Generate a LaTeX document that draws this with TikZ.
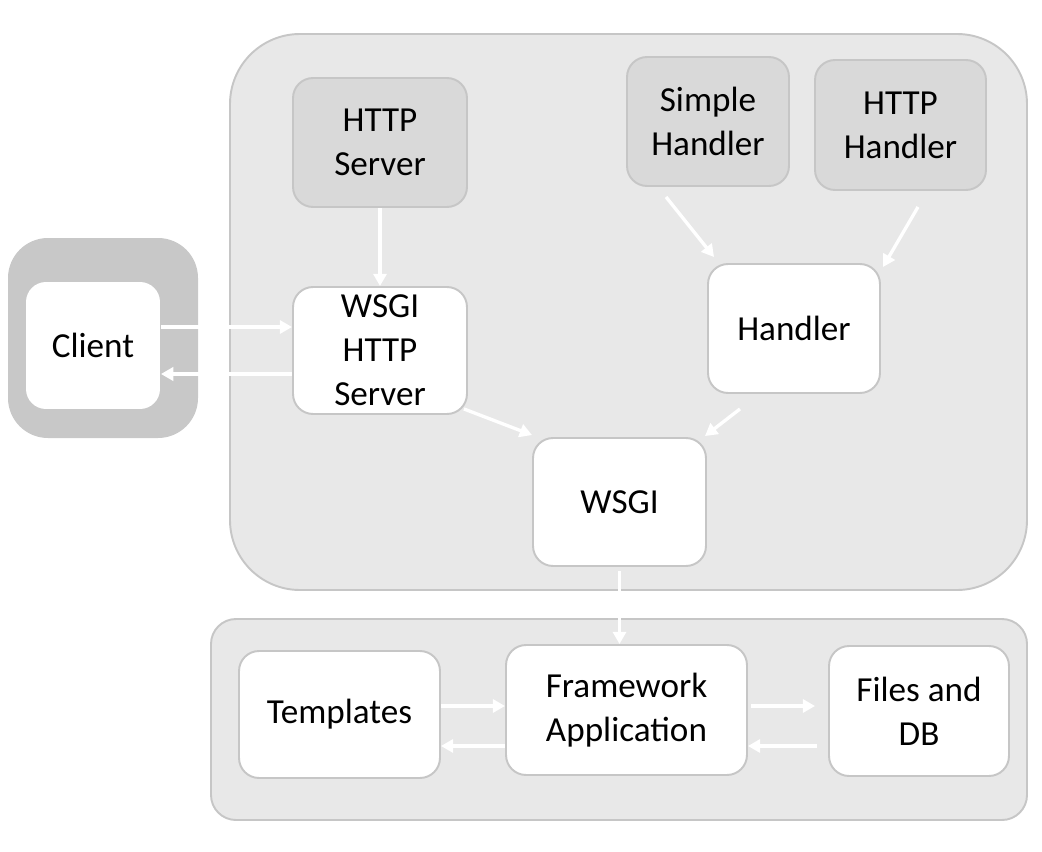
\documentclass[tikz,border=0pt]{standalone}
\usepackage{fontspec}
\setmainfont{Carlito}
\usetikzlibrary{arrows.meta}
\definecolor{panel}{HTML}{E8E8E8}
\definecolor{rim}{HTML}{C6C6C6}
\definecolor{boxgrey}{HTML}{D9D9D9}
\definecolor{clientgrey}{HTML}{C8C8C8}
\begin{document}
\begin{tikzpicture}[x=0.02cm,y=-0.02cm,
  box/.style={draw=rim,line width=1.1pt,fill=white,rounded corners=0.4cm,
    align=center,inner sep=0pt,font=\fontsize{20}{25}\selectfont},
  greybox/.style={box,fill=boxgrey},
  flow/.style={white,line width=1.9pt,-{Triangle[length=7pt,width=7.5pt]}}]
  \useasboundingbox (0,0) rectangle (1042,852);
% panels
  \draw[rim,fill=panel,line width=1.1pt,rounded corners=1.4cm] (230,34) rectangle (1027,590);
  \draw[rim,fill=panel,line width=1.1pt,rounded corners=0.5cm] (211,619) rectangle (1027,820);
  \fill[clientgrey,rounded corners=0.8cm] (8,238) rectangle (198,438);
% nodes
  \node[box,minimum width=2.68cm,minimum height=2.54cm,draw=none] (client) at (93,345.5) {Client};
  \node[greybox,minimum width=3.48cm,minimum height=2.58cm] (httpsrv) at (380,142.5) {HTTP\\Server};
  \node[box,minimum width=3.48cm,minimum height=2.54cm] (wsgihttp) at (380,350.5) {WSGI\\HTTP\\Server};
  \node[greybox,minimum width=3.24cm,minimum height=2.58cm] (simple) at (708,121.5) {Simple\\Handler};
  \node[greybox,minimum width=3.42cm,minimum height=2.6cm] (httph) at (900.5,125) {HTTP\\Handler};
  \node[box,minimum width=3.44cm,minimum height=2.58cm] (handler) at (794,328.5) {Handler};
  \node[box,minimum width=3.46cm,minimum height=2.56cm] (wsgi) at (619.5,502) {WSGI};
  \node[box,minimum width=4.02cm,minimum height=2.54cm] (templates) at (339.5,714.5) {Templates};
  \node[box,minimum width=4.82cm,minimum height=2.6cm] (framework) at (626.5,710) {Framework\\Application};
  \node[box,minimum width=3.6cm,minimum height=2.6cm] (files) at (919,711) {Files and\\DB};
% arrows
  \draw[flow] (httpsrv) -- (wsgihttp);
  \draw[flow] ([yshift=0.47cm]wsgihttp.west -| client.east) -- ([yshift=0.47cm]wsgihttp.west);
  \draw[flow] ([yshift=-0.47cm]wsgihttp.west) -- ([yshift=-0.47cm]wsgihttp.west -| client.east);
  \draw[flow] ([xshift=-0.84cm,yshift=-0.2cm]simple.south) -- ([xshift=0.14cm,yshift=0.12cm]handler.north west);
  \draw[flow] ([xshift=0.35cm,yshift=-0.32cm]httph.south) -- ([xshift=0.04cm,yshift=-0.08cm]handler.north east);
  \draw[flow] ([xshift=-1.08cm,yshift=-0.3cm]handler.south) -- ([xshift=-0.04cm,yshift=0.02cm]wsgi.north east);
  \draw[flow] ([xshift=-0.08cm,yshift=0.12cm]wsgihttp.south east) -- ([yshift=0.04cm]wsgi.north west);
  \draw[flow,shorten <=0.08cm] (wsgi.south) -- (wsgi.south |- framework.north);
  \draw[flow] ([yshift=0.08cm]framework.west -| templates.east) -- ([yshift=0.08cm]framework.west);
  \draw[flow] ([yshift=-0.72cm]framework.west) -- ([yshift=-0.72cm]framework.west -| templates.east);
  \draw[flow,shorten <=0.06cm,shorten >=0.26cm] ([yshift=0.08cm]framework.east) -- ([yshift=0.08cm]framework.east -| files.west);
  \draw[flow,shorten <=0.22cm] ([yshift=-0.72cm]framework.east -| files.west) -- ([yshift=-0.72cm]framework.east);
\end{tikzpicture}
\end{document}
